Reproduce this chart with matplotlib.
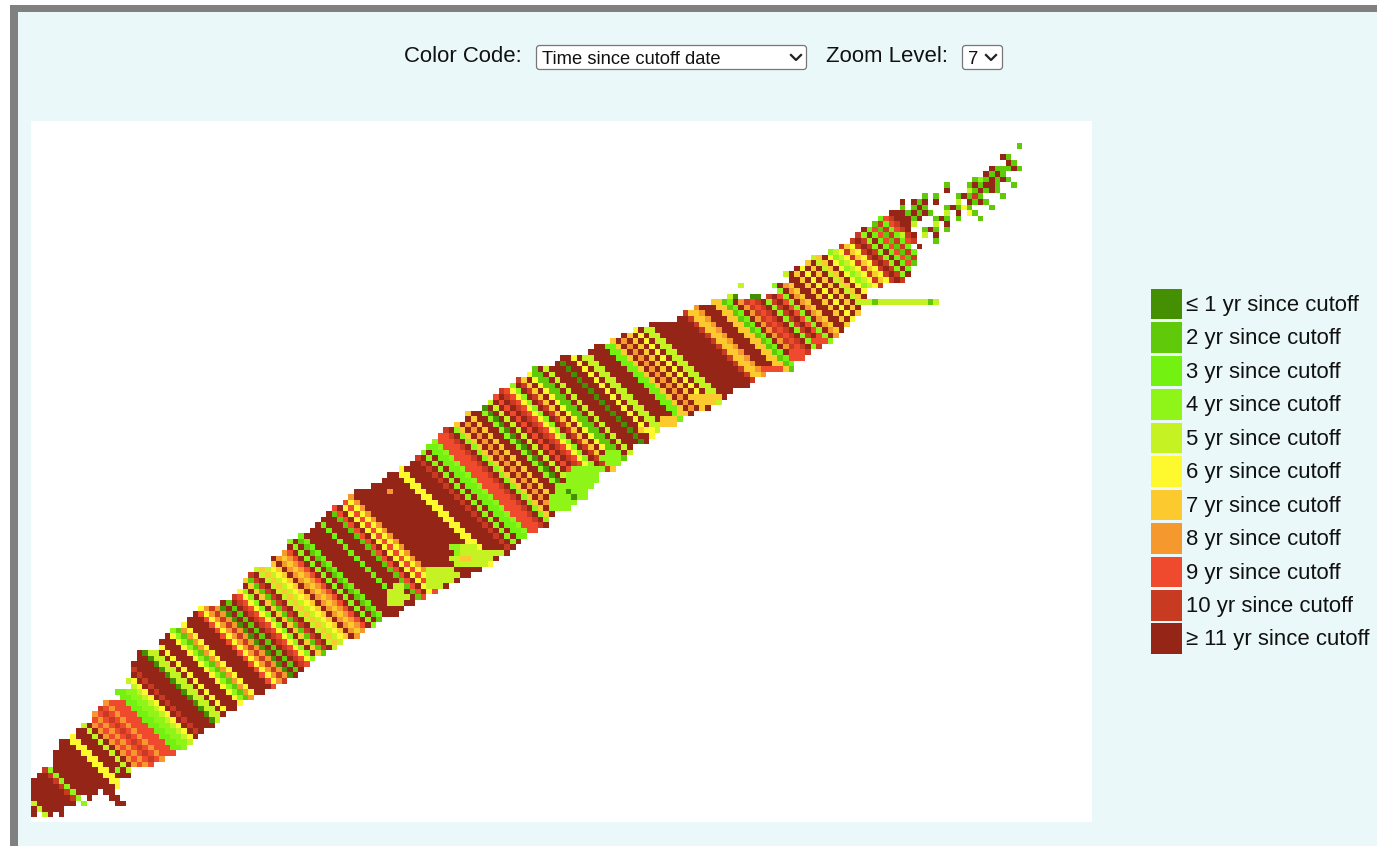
import numpy as np
import matplotlib
matplotlib.use("Agg")
from matplotlib import pyplot as plt
from matplotlib.colors import ListedColormap
from matplotlib.patches import Rectangle, FancyBboxPatch

plt.rcParams['font.family'] = ['Liberation Sans', 'DejaVu Sans']

legend_labels = ["≤ 1 yr since cutoff", "2 yr since cutoff", "3 yr since cutoff", "4 yr since cutoff",
                 "5 yr since cutoff", "6 yr since cutoff", "7 yr since cutoff", "8 yr since cutoff",
                 "9 yr since cutoff", "10 yr since cutoff", "≥ 11 yr since cutoff"]
legend_colors = ["#448f02", "#5fc90a", "#73f110", "#8ff418", "#c4f222", "#fdf92e", "#fcc92f",
                 "#f5992e", "#ef4a2d", "#c93a22", "#952617"]
codes = "abcdefghijk"

# one letter per diagonal stripe (col + row)
stripes = ("kkekkkkkkk" "jdkkkkkkkk" "ffkkkekhih" "ijihiiiccd" "defkjkkkka"
           "eekfkkkfdb" "hfkkkkifhj" "hakbkjifdk" "gbjkegefgk" "hghikdkbck"
           "kkkkckkkbi" "kfifhkkkkk" "kkkkkkkffk" "kkkjkdkccd" "iiijkdgkhk"
           "gkkdakekik" "jifdkjgkfb" "bkekkkakkf" "keekkkkccg" "khkgkfkeek"
           "kkkkkkkjgg" "hkkkggbckh" "jijkdjkidk" "hgkkgkfkgk" "egkfdefjgf"
           "jkjdkcibjc" "ijkkkkkkkk" "kkkkkkkkkk")

# first and last filled column of each row, row 0 is the bottom one
row_start = [0, 0, 0, 0, 0, 0, 0, 1, 2, 4, 4, 4, 5, 5, 7, 8, 9, 11, 11, 12, 13, 16, 15, 18, 17, 18, 18, 18, 19, 19,
             23, 23, 24, 25, 27, 28, 29, 30, 34, 36, 37, 38, 38, 39, 40, 43, 43, 45, 46, 47, 48, 50, 51, 52, 53,
             54, 56, 57, 58, 62, 63, 64, 66, 68, 69, 70, 71, 72, 73, 74, 76, 78, 78, 81, 82, 83, 84, 86, 87, 89,
             90, 94, 95, 100, 101, 104, 106, 108, 111, 116, 117, 119, 122, 132, 134, 133, 136, 136, 137, 139,
             140, 143, 145, 147, 148, 149, 151, 152, 154]
row_end = [5, 5, 7, 8, 11, 15, 15, 17, 17, 21, 23, 25, 27, 28, 29, 30, 32, 33, 34, 36, 37, 39, 41, 43, 45, 47, 48,
           49, 50, 52, 54, 55, 58, 59, 61, 62, 65, 66, 68, 70, 72, 74, 76, 78, 80, 82, 83, 85, 86, 87, 88, 90, 92,
           92, 93, 95, 97, 98, 99, 100, 101, 101, 104, 105, 106, 107, 107, 110, 111, 112, 115, 116, 118, 121, 123,
           124, 125, 128, 129, 131, 136, 136, 138, 139, 141, 143, 144, 145, 146, 147, 148, 148, 147, 149, 149,
           152, 156, 157, 157, 158, 158, 158, 157, 158, 158, 157, 157, 157, 157]

# cells that do not follow the stripes: (row, first col, letters, '.' = empty)
extra_rows = [0, 0, 2, 2, 3, 3, 4, 8, 49, 58, 59, 93, 93, 95, 97, 104,
              38, 39, 40, 41, 41, 42, 43, 44, 45, 46, 47, 48,
              55, 56, 57, 58, 59, 60, 61, 62, 63, 64, 65,
              69, 70, 71, 72, 74, 75, 80, 82, 83, 85,
              92, 102, 103, 104, 105, 106, 107, 108, 109, 110, 111, 112, 113, 114, 115, 116, 117, 118, 120]
extra_cols = [1, 4, 9, 15, 10, 14, 13, 15, 46, 64, 61, 125, 129, 127, 135, 156,
              64, 64, 64, 65, 71, 71, 71, 71, 76, 75, 76, 75,
              93, 93, 93, 94, 95, 96, 96, 97, 103, 102, 103,
              109, 113, 113, 116, 119, 119, 131, 136, 136, 140,
              148, 159, 162, 160, 160, 158, 158, 157, 156, 156, 160, 164, 164, 169, 171, 172, 175, 174, 177]
extra_cells = ["w", "w", "d", "kk", "k", "kk", "kk", "d", "d", "h", "k", "ea", "aa", "e", "e", "e",
               "eee", "eeee", "eee", "ee", "eee", "eeeee", "eeeeee", "eeeee", "eeeeee", "eeggeeee", "deeeeeeee", "ddeee",
               "dddd", "ddddd", "ddddadd", "ddaddd", "dddddd", "dddddd", "dddddd", "dddddd", "ddd", "dddd", "ddd",
               "gff", "ggg", "ggg", "g", "gggg", "ggggg", "iiii", "iii", "iii", "iii",
               "eeebeeeeeeeeebe", "k", "b", "e.k", "bkb.b", "e...e.k", "bk..bkb.b...b", "bkbkb..e.k.fb",
               "b.bkb...bkbfb...b", "k.kbk.k...e.kbkb", "b.b...bkbjb...b", "k...ebkbkb", "b...bkbkkb..b",
               "bdbkbkb", "kbkb", "kbbbkb", "kb", "kb", "b"]

n_rows = 126
n_cols = 191
grid = np.full((n_rows, n_cols), np.nan)
for r in range(len(row_start)):
    for c in range(row_start[r], row_end[r] + 1):
        grid[r, c] = codes.index(stripes[c + r])
for r, c0, cells in zip(extra_rows, extra_cols, extra_cells):
    for i, ch in enumerate(cells):
        if ch == "w":
            grid[r, c0 + i] = np.nan
        elif ch != ".":
            grid[r, c0 + i] = codes.index(ch)

W, H = 1377, 846
fig = plt.figure(figsize=(W / 100, H / 100), dpi=100, facecolor="white")

# page furniture in pixel coordinates
bg = fig.add_axes([0, 0, 1, 1])
bg.set_xlim(0, W)
bg.set_ylim(H, 0)
bg.axis("off")
bg.add_patch(Rectangle((10, 5), W, H, fc="#808080", ec="none"))
bg.add_patch(Rectangle((18, 12), W, H, fc="#ebf8fa", ec="none"))

bg.text(404, 57, "Color Code:", fontsize=15.9, va="center", color="#111111")
bg.text(826, 57, "Zoom Level:", fontsize=15.9, va="center", color="#111111")
bg.add_patch(FancyBboxPatch((536.5, 45.5), 270, 24, boxstyle="round,pad=0,rounding_size=3", fc="white", ec="#777777", lw=0.9))
bg.add_patch(FancyBboxPatch((962.5, 45.5), 40, 24, boxstyle="round,pad=0,rounding_size=3", fc="white", ec="#777777", lw=0.9))
bg.text(542, 59, "Time since cutoff date", fontsize=13.2, va="center", color="#111111")
bg.text(968, 59, "7", fontsize=13.2, va="center", color="#111111")
bg.plot([791, 796, 801], [55, 60, 55], color="#222222", lw=1.6)
bg.plot([986, 991, 996], [55, 60, 55], color="#222222", lw=1.6)

for i, (lab, col) in enumerate(zip(legend_labels, legend_colors)):
    y = 289 + i * 33.45
    bg.add_patch(Rectangle((1151, y), 30.5, 30.5, fc=col, ec="none"))
    bg.text(1186, y + 16.5, lab, fontsize=15.9, va="center", color="#111111")

# the map itself
ax = fig.add_axes([31 / W, (H - 822) / H, 1061 / W, 701 / H])
ax.set_facecolor("white")
ax.pcolormesh(np.arange(n_cols + 1), np.arange(n_rows + 1), np.ma.masked_invalid(grid),
              cmap=ListedColormap(legend_colors), vmin=-0.5, vmax=10.5)
ax.set_xlim(0, 1061 / 5.57)
ax.set_ylim(-0.84, 125.0)
ax.set_xticks([])
ax.set_yticks([])
for s in ax.spines.values():
    s.set_visible(False)

fig.savefig("out.png", dpi=100)
